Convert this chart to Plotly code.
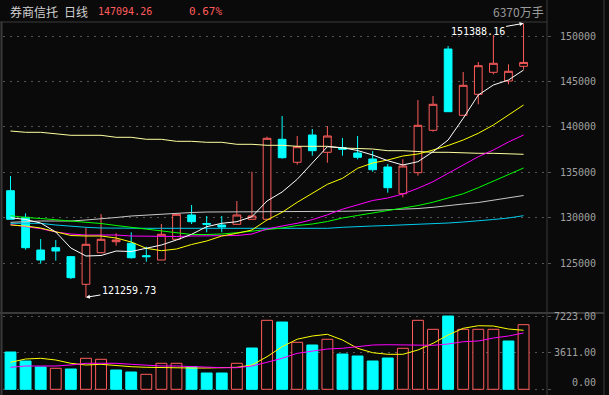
import plotly.graph_objects as go

# ---------------- data ----------------
idx = list(range(35))
open_ = [132987, 130061, 126464, 126717, 125731, 122692, 126167, 127375, 127201, 125840,
         125364, 127641, 130314, 129380, 129214, 129291, 129841, 129841, 138639, 136110,
         139112, 137209, 137715, 137132, 136473, 135593, 132657, 134966, 139629, 148570,
         141279, 143588, 146008, 145051, 146668]
high = [134603, 130500, 127674, 127564, 125800, 128917, 130424, 128300, 128410, 126827,
        129324, 130460, 131413, 130204, 130204, 131853, 135076, 138925, 141202, 139002,
        139772, 140102, 138782, 139002, 137352, 135923, 136440, 142961, 143401, 148900,
        146041, 147140, 150110, 146888, 151388.16]
low = [129841, 126497, 124957, 125290, 123275, 121259.73, 126167, 126937, 125507, 125177,
       125364, 127641, 129324, 128410, 128410, 129291, 129841, 129841, 136506, 135846,
       136836, 136066, 136836, 136440, 135076, 132766, 132260, 134636, 139475, 141674,
       141279, 142488, 145788, 144688, 146338]
close = [129841, 126717, 125364, 126354, 123421, 127091, 127641, 127564, 125617, 125731,
         128190, 130391, 129577, 129300, 128994, 130314, 130204, 138749, 136616, 137825,
         137385, 139002, 137539, 136660, 135296, 133316, 135703, 140179, 142488, 141674,
         144578, 146734, 146998, 146118, 147094.26]
volume = [3675, 2788, 2197, 2069, 2000, 3054, 2956, 1901, 1705, 1478,
          2562, 2562, 2227, 1606, 1606, 2562, 4069, 6798, 6630, 4630,
          4365, 4926, 3478, 3281, 2788, 3084, 4039, 6798, 5911, 7222,
          5911, 5911, 5911, 4759, 6370]

ma5 = [130017, 129819, 129433, 128444, 126684, 125804, 125859, 126354, 126299, 126629,
       127014, 127564, 128191, 129026, 129401, 129577, 130127, 131853, 132843, 134240,
       135999, 137825, 137715, 137407, 136912, 136285, 135812, 136175, 137275, 138562,
       140948, 143511, 144611, 145161, 146260]
ma10 = [129213, 129104, 128884, 128444, 128059, 128004, 128004, 127784, 127344, 126650,
        126387, 126574, 127069, 127454, 128004, 128301, 128664, 129763, 130610, 131710,
        132700, 133690, 134350, 135450, 136032, 136362, 136802, 137022, 137462, 137957,
        138562, 139299, 140211, 141311, 142411]
ma20 = [129268, 129026, 128807, 128444, 128224, 128114, 128114, 128114, 128004, 127971,
        127949, 127949, 128004, 128037, 128037, 128059, 128224, 128774, 129104, 129400,
        129800, 130330, 130950, 131450, 131908, 132183, 132623, 133250, 133976, 134899,
        135812, 136725, 137462, 138342, 139112]
ma30 = [130237, 130038, 129928, 129819, 129653, 129511, 129379, 129159, 128961, 128719,
        128554, 128334, 128169, 128169, 128224, 128367, 128554, 128774, 128884, 129159,
        129323, 129598, 129983, 130260, 130550, 130800, 131050, 131350, 131720, 132158,
        132649, 133317, 134038, 134697, 135486]
ma60 = [129511, 129599, 129653, 129653, 129653, 129763, 129873, 130038, 130203, 130313,
        130423, 130478, 130588, 130643, 130643, 130677, 130677, 130677, 130677, 130688,
        130698, 130709, 130720, 130753, 130830, 130863, 130918, 131028, 131160, 131303,
        131523, 131688, 131963, 132183, 132458]
ma120 = [129401, 129401, 129401, 129213, 129048, 128960, 128884, 128850, 128850, 128850,
         128850, 128850, 128850, 128850, 128850, 128850, 128850, 128850, 128850, 128850,
         128850, 128850, 128960, 129071, 129104, 129159, 129213, 129291, 129323, 129433,
         129543, 129653, 129818, 129983, 130237]
ma250 = [139552, 139409, 139409, 139222, 139079, 139079, 139079, 138859, 138859, 138639,
         138639, 138419, 138419, 138309, 138309, 138089, 138089, 137979, 137979, 137869,
         137869, 137869, 137682, 137649, 137572, 137385, 137385, 137297, 137209, 137209,
         137132, 137099, 137099, 137077, 136989]

vol_ma5 = [2660, 2985, 3054, 2887, 2562, 2394, 2463, 2325, 2227, 2167,
           2128, 2098, 2098, 2098, 2098, 2167, 2394, 3212, 4197, 4936,
           5251, 5419, 4857, 4039, 3606, 3448, 3448, 3872, 4532, 5350,
           6010, 6266, 6236, 5941, 5813]
vol_ma10 = [2167, 2296, 2296, 2296, 2394, 2562, 2562, 2562, 2463, 2345,
            2296, 2296, 2246, 2128, 2128, 2128, 2296, 2660, 3054, 3547,
            3773, 3970, 4039, 4197, 4364, 4394, 4394, 4335, 4335, 4463,
            4690, 4759, 5054, 5251, 5547]

price_ticks = [125000, 130000, 135000, 140000, 145000, 150000]
price_tick_labels = ["125000", "130000", "135000", "140000", "145000", "150000"]
vol_ticks = [0, 3611, 7223]
vol_tick_labels = ["0.00", "3611.00", "7223.00"]

title_name = "券商信托"
title_period = "日线"
vol_unit = "万手"

# ---------------- style ----------------
BG = "#0a0a0a"
RED = "#ff5c5c"
CYAN = "#00ffff"
GRID = "#555555"
BORDER = "#3a3a3a"
LABEL = "#a0a0a0"
MONO = "DejaVu Sans Mono"
CJK = "Noto Sans CJK SC"

W, H = 609, 395
L, R, T, B = 3, 547, 22, 393


def px_x(p):
    return (p - L) / (R - L)


def px_y(p):
    return (B - p) / (B - T)


split = px_y(313)

fig = go.Figure()

fig.add_trace(go.Candlestick(
    x=idx, open=open_, high=high, low=low, close=close,
    increasing=dict(line=dict(color=RED, width=1), fillcolor=BG),
    decreasing=dict(line=dict(color=CYAN, width=1), fillcolor=CYAN),
    whiskerwidth=0, hoverinfo="skip", showlegend=False, xaxis="x", yaxis="y"))

ma_specs = [(ma250, "#ffffa0"), (ma120, "#00ccee"), (ma60, "#c8c8c8"), (ma30, "#00ff00"),
            (ma20, "#ff00ff"), (ma10, "#ffff00"), (ma5, "#ffffff")]
for vals, col in ma_specs:
    fig.add_trace(go.Scatter(x=idx, y=vals, mode="lines", line=dict(color=col, width=1),
                             hoverinfo="skip", showlegend=False, xaxis="x", yaxis="y"))

# volume
vol_up = [close[0] >= open_[0]] + [close[i] >= close[i - 1] for i in range(1, len(close))]
fig.add_trace(go.Bar(
    x=idx, y=volume, width=0.72,
    marker=dict(color=[BG if u else CYAN for u in vol_up],
                line=dict(color=[RED if u else CYAN for u in vol_up], width=1)),
    hoverinfo="skip", showlegend=False, xaxis="x", yaxis="y2"))
fig.add_trace(go.Scatter(x=idx, y=vol_ma5, mode="lines", line=dict(color="#ffff00", width=1),
                         hoverinfo="skip", showlegend=False, xaxis="x", yaxis="y2"))
fig.add_trace(go.Scatter(x=idx, y=vol_ma10, mode="lines", line=dict(color="#ff00ff", width=1),
                         hoverinfo="skip", showlegend=False, xaxis="x", yaxis="y2"))

axis_common = dict(side="right", showticklabels=False, showgrid=True, gridcolor=GRID,
                   gridwidth=1, griddash="2px,5px", zeroline=False, ticks="outside",
                   ticklen=3, tickcolor=GRID, showline=False)

fig.update_layout(
    width=W, height=H,
    margin=dict(l=L, r=W - R, t=T, b=H - B),
    paper_bgcolor=BG, plot_bgcolor=BG,
    boxgap=0.27,
    xaxis=dict(range=[-0.497, 35.553], visible=False, rangeslider=dict(visible=False),
               fixedrange=True),
    yaxis=dict(domain=[split, 1], range=[119535, 151540], tickvals=price_ticks, **axis_common),
    yaxis2=dict(domain=[0, split], range=[-365, 7519], tickvals=vol_ticks, **axis_common),
    showlegend=False,
)

ann = []
for v, t in zip(price_ticks, price_tick_labels):
    ann.append(dict(xref="paper", yref="y", x=px_x(598), y=v, text=t, showarrow=False,
                    xanchor="right", yanchor="middle", font=dict(family=MONO, size=10, color=LABEL)))
for v, t in zip(vol_ticks, vol_tick_labels):
    ann.append(dict(xref="paper", yref="y2", x=px_x(598), y=v, text=t, showarrow=False,
                    xanchor="right", yanchor="middle", yshift=7 if v == 0 else 0,
                    font=dict(family=MONO, size=10, color=LABEL)))

# header
pct = (close[-1] / close[-2] - 1) * 100
ann += [
    dict(xref="paper", yref="paper", x=px_x(8), y=px_y(12), text=title_name, showarrow=False,
         xanchor="left", yanchor="middle", font=dict(family=CJK, size=12, color="#d0d0d0")),
    dict(xref="paper", yref="paper", x=px_x(62), y=px_y(12), text=title_period, showarrow=False,
         xanchor="left", yanchor="middle", font=dict(family=CJK, size=12, color="#d0d0d0")),
    dict(xref="paper", yref="paper", x=px_x(96), y=px_y(12), text=f"{close[-1]:.2f}", showarrow=False,
         xanchor="left", yanchor="middle", font=dict(family=MONO, size=10, color=RED)),
    dict(xref="paper", yref="paper", x=px_x(187), y=px_y(12), text=f"{pct:.2f}%", showarrow=False,
         xanchor="left", yanchor="middle", font=dict(family=MONO, size=11, color=RED)),
    dict(xref="paper", yref="paper", x=px_x(546), y=px_y(12), text=f"{volume[-1]}{vol_unit}",
         showarrow=False, xanchor="right", yanchor="middle",
         font=dict(family=CJK, size=12, color="#9a9a9a")),
]

# high / low markers
hi_i = max(idx, key=lambda i: high[i])
lo_i = min(idx, key=lambda i: low[i])
ann.append(dict(xref="x", yref="y", x=hi_i, y=high[hi_i], text=f"{high[hi_i]:.2f}",
                showarrow=True, ax=-46, ay=8, arrowcolor="#ffffff", arrowwidth=1,
                arrowhead=2, arrowsize=0.8, standoff=0,
                font=dict(family=MONO, size=10, color="#ffffff")))
ann.append(dict(xref="x", yref="y", x=lo_i, y=low[lo_i], text=f"{low[lo_i]:.2f}",
                showarrow=True, ax=43, ay=-7, arrowcolor="#ffffff", arrowwidth=1,
                arrowhead=2, arrowsize=0.8, standoff=0,
                font=dict(family=MONO, size=10, color="#ffffff")))

fig.update_layout(annotations=ann)

shapes = [
    dict(type="line", xref="paper", yref="paper", x0=px_x(0), x1=px_x(547), y0=px_y(22), y1=px_y(22),
         line=dict(color=BORDER, width=1)),
    dict(type="line", xref="paper", yref="paper", x0=px_x(0), x1=px_x(604), y0=px_y(313), y1=px_y(313),
         line=dict(color=BORDER, width=2)),
    dict(type="line", xref="paper", yref="paper", x0=px_x(547), x1=px_x(547), y0=px_y(0), y1=px_y(395),
         line=dict(color=BORDER, width=1)),
    dict(type="line", xref="paper", yref="paper", x0=px_x(604), x1=px_x(604), y0=px_y(0), y1=px_y(395),
         line=dict(color=BORDER, width=1)),
    dict(type="line", xref="paper", yref="paper", x0=px_x(1.5), x1=px_x(1.5), y0=px_y(22), y1=px_y(395),
         line=dict(color=BORDER, width=2)),
]
fig.update_layout(shapes=shapes)

fig.write_html(
    "out.html",
    config={"displayModeBar": False},
    post_script="document.body.style.margin='0';document.body.style.background='#0a0a0a';"
                "document.documentElement.style.overflow='hidden';",
)
